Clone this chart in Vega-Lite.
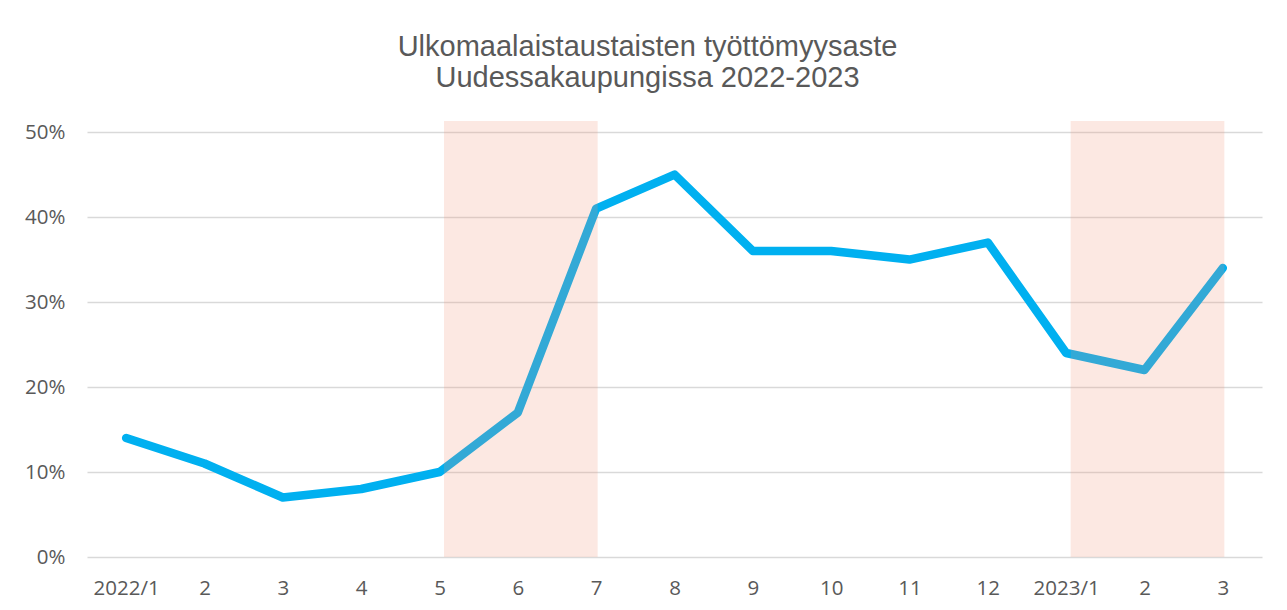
{
  "$schema": "https://vega.github.io/schema/vega-lite/v6.json",
  "width": 1175,
  "height": 436,
  "autosize": {"type": "none"},
  "padding": {"left": 87, "top": 121, "right": 25, "bottom": 53},
  "background": "white",
  "title": {
    "text": ["Ulkomaalaistaustaisten työttömyysaste", "Uudessakaupungissa 2022-2023"],
    "font": "Liberation Sans",
    "fontSize": 29,
    "fontWeight": "normal",
    "color": "#595959",
    "lineHeight": 31,
    "anchor": "middle",
    "dx": -27,
    "offset": 28
  },
  "config": {
    "view": {"stroke": null},
    "axis": {
      "labelFont": "Open Sans",
      "labelFontSize": 20.5,
      "labelColor": "#595959",
      "domain": false,
      "ticks": false,
      "title": null
    }
  },
  "datasets": {
    "rates": [
      {"kk": "2022/1", "osuus": 0.14},
      {"kk": "2", "osuus": 0.11},
      {"kk": "3", "osuus": 0.07},
      {"kk": "4", "osuus": 0.08},
      {"kk": "5", "osuus": 0.10},
      {"kk": "6", "osuus": 0.17},
      {"kk": "7", "osuus": 0.41},
      {"kk": "8", "osuus": 0.45},
      {"kk": "9", "osuus": 0.36},
      {"kk": "10", "osuus": 0.36},
      {"kk": "11", "osuus": 0.35},
      {"kk": "12", "osuus": 0.37},
      {"kk": "2023/1", "osuus": 0.24},
      {"kk": "2 ", "osuus": 0.22},
      {"kk": "3 ", "osuus": 0.34}
    ],
    "bands": [
      {"alku": "5", "loppu": "7", "ala": 0, "yla": 0.513},
      {"alku": "2023/1", "loppu": "3 ", "ala": 0, "yla": 0.513}
    ]
  },
  "layer": [
    {
      "data": {"name": "rates"},
      "mark": {"type": "line", "color": "#00B0F0", "strokeWidth": 8.5, "strokeCap": "round", "strokeJoin": "round"},
      "encoding": {
        "x": {
          "field": "kk",
          "type": "ordinal",
          "sort": null,
          "scale": {"type": "point", "padding": 0.5},
          "axis": {"labelAngle": 0, "labelPadding": 21, "grid": false}
        },
        "y": {
          "field": "osuus",
          "type": "quantitative",
          "scale": {"domain": [0, 0.513], "nice": false, "zero": true},
          "axis": {
            "values": [0, 0.1, 0.2, 0.3, 0.4, 0.5],
            "format": ".0%",
            "labelPadding": 22,
            "grid": true,
            "gridColor": "#D9D9D9",
            "gridWidth": 1.5
          }
        }
      }
    },
    {
      "data": {"name": "bands"},
      "mark": {"type": "rect", "color": "#F09476", "opacity": 0.21, "xOffset": 4.5, "x2Offset": 1.5},
      "encoding": {
        "x": {"field": "alku", "type": "ordinal", "sort": null},
        "x2": {"field": "loppu"},
        "y": {"field": "ala", "type": "quantitative"},
        "y2": {"field": "yla"}
      }
    }
  ]
}
